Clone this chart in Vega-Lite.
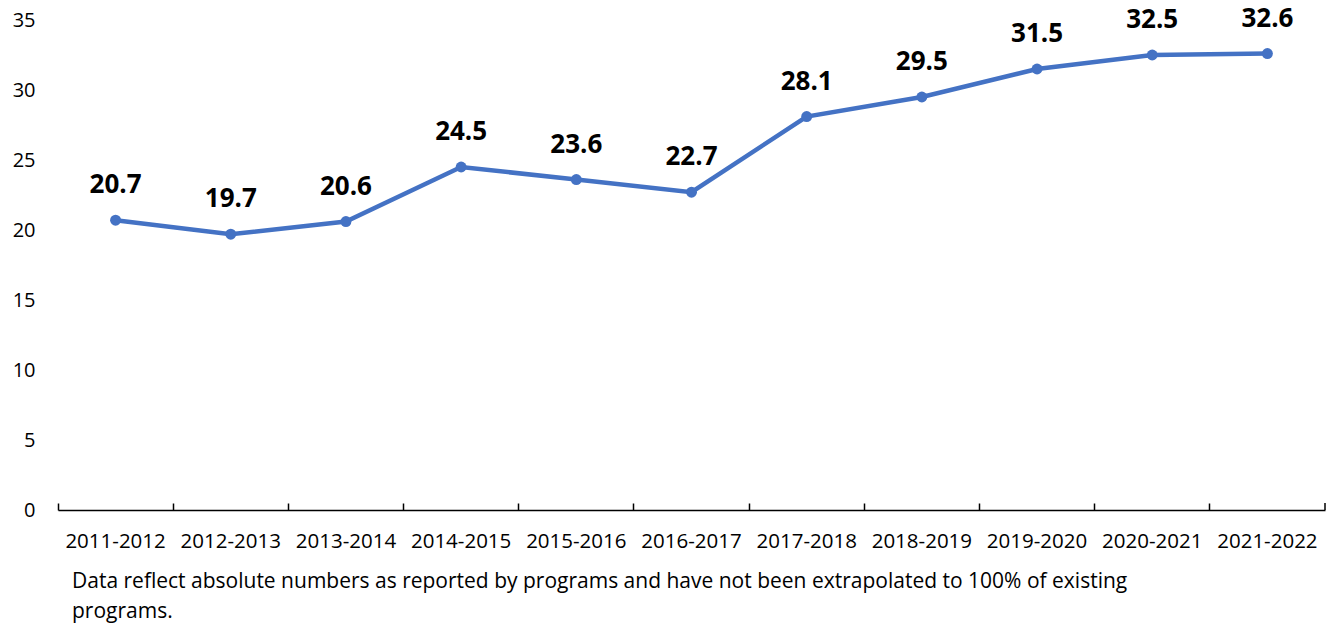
{
  "$schema": "https://vega.github.io/schema/vega-lite/v6.json",
  "width": 1267,
  "height": 490,
  "autosize": "none",
  "padding": {"left": 58, "top": 20, "right": 9, "bottom": 114},
  "background": "white",
  "config": {
    "view": {"stroke": null},
    "font": "Open Sans"
  },
  "title": {
    "text": ["Data reflect absolute numbers as reported by programs and have not been extrapolated to 100% of existing", "programs."],
    "orient": "bottom",
    "anchor": "start",
    "frame": "group",
    "dx": 14,
    "offset": 19,
    "fontSize": 21,
    "fontWeight": "normal",
    "font": "Open Sans",
    "color": "#000000",
    "lineHeight": 30,
    "baseline": "top"
  },
  "data": {
    "values": [
      {"season": "2011-2012", "value": 20.7},
      {"season": "2012-2013", "value": 19.7},
      {"season": "2013-2014", "value": 20.6},
      {"season": "2014-2015", "value": 24.5},
      {"season": "2015-2016", "value": 23.6},
      {"season": "2016-2017", "value": 22.7},
      {"season": "2017-2018", "value": 28.1},
      {"season": "2018-2019", "value": 29.5},
      {"season": "2019-2020", "value": 31.5},
      {"season": "2020-2021", "value": 32.5},
      {"season": "2021-2022", "value": 32.6}
    ]
  },
  "encoding": {
    "x": {
      "field": "season",
      "type": "nominal",
      "sort": null,
      "scale": {"type": "band", "paddingInner": 0, "paddingOuter": 0},
      "axis": {
        "title": null,
        "labelAngle": 0,
        "bandPosition": 0,
        "domainColor": "#000000",
        "domainWidth": 1.5,
        "tickColor": "#000000",
        "tickWidth": 1.5,
        "tickSize": -7,
        "labelPadding": 28,
        "labelFontSize": 20.5,
        "labelColor": "#000000",
        "labelFont": "Open Sans"
      }
    },
    "y": {
      "field": "value",
      "type": "quantitative",
      "scale": {"domain": [0, 35], "nice": false, "zero": true},
      "axis": {
        "title": null,
        "values": [0, 5, 10, 15, 20, 25, 30, 35],
        "domain": false,
        "ticks": false,
        "grid": false,
        "labelPadding": 23,
        "labelFontSize": 20,
        "labelColor": "#000000",
        "labelFont": "Open Sans"
      }
    }
  },
  "layer": [
    {
      "mark": {"type": "line", "color": "#4472C4", "strokeWidth": 4.5}
    },
    {
      "mark": {"type": "circle", "color": "#4472C4", "opacity": 1, "size": 120}
    },
    {
      "mark": {"type": "text", "fontSize": 26, "fontWeight": "bold", "color": "#000000", "baseline": "alphabetic", "dy": -27, "font": "Open Sans"},
      "encoding": {
        "text": {"field": "value", "type": "quantitative", "format": ".1f"}
      }
    },
    {
      "transform": [{"filter": "datum.season === '2021-2022'"}],
      "mark": {"type": "rule", "color": "#000000", "strokeWidth": 1.5},
      "encoding": {
        "x": {"field": "season", "type": "nominal", "bandPosition": 1},
        "y": {"datum": 0},
        "y2": {"datum": 0.5}
      }
    }
  ]
}
